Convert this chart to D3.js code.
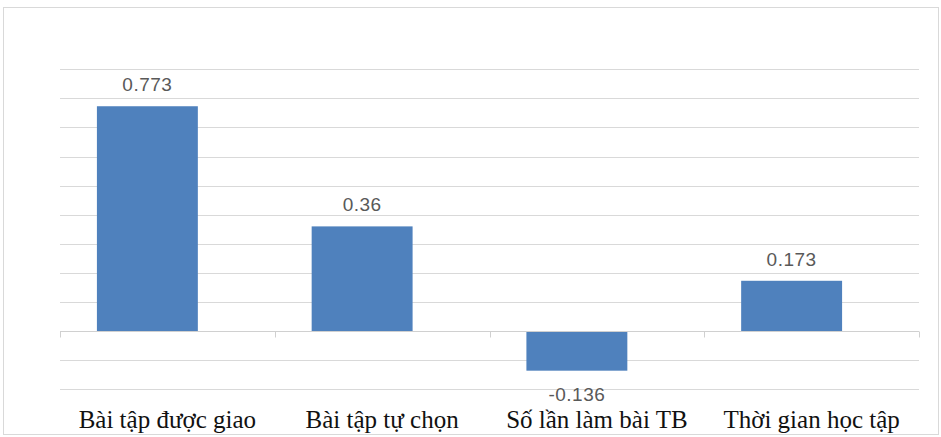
<!DOCTYPE html>
<html>
<head>
<meta charset="utf-8">
<script src="https://cdn.jsdelivr.net/npm/d3@7"></script>
<style>
  html, body { margin: 0; padding: 0; background: #fff; }
  svg { display: block; }
</style>
</head>
<body>
<svg id="chart" width="941" height="437"></svg>
<script>
// Hệ số tương quan của từng yếu tố
const categories = ["Bài tập được giao", "Bài tập tự chọn", "Số lần làm bài TB", "Thời gian học tập"];
const values = [0.773, 0.36, -0.136, 0.173];
const valueLabels = ["0.773", "0.36", "-0.136", "0.173"];
const gridTicks = [-0.2, -0.1, 0, 0.1, 0.2, 0.3, 0.4, 0.5, 0.6, 0.7, 0.8, 0.9];

const svg = d3.select("#chart");
const W = 941, H = 437;
const plot = { left: 60, right: 919, top: 69.3, bottom: 389.3 };
const barShift = -20; // bars sit left of the category centre

// chart frame
svg.append("rect")
  .attr("x", 3.5).attr("y", 7.5)
  .attr("width", W - 6).attr("height", H - 10)
  .attr("fill", "#fff").attr("stroke", "#d9d9d9").attr("stroke-width", 1);

const x = d3.scaleBand()
  .domain(categories)
  .range([plot.left, plot.right])
  .paddingInner(0.53)
  .paddingOuter(0.265);

const y = d3.scaleLinear()
  .domain([-0.2, 0.9])
  .range([plot.bottom, plot.top]);

// horizontal gridlines
svg.append("g")
  .selectAll("line")
  .data(gridTicks.filter(t => t !== 0))
  .join("line")
  .attr("x1", plot.left).attr("x2", plot.right)
  .attr("y1", d => Math.round(y(d)) + 0.5)
  .attr("y2", d => Math.round(y(d)) + 0.5)
  .attr("stroke", "#d9d9d9").attr("stroke-width", 1);

// bars
svg.append("g")
  .selectAll("rect")
  .data(values)
  .join("rect")
  .attr("x", (d, i) => x(categories[i]) + barShift)
  .attr("width", x.bandwidth())
  .attr("y", d => y(Math.max(0, d)))
  .attr("height", d => Math.abs(y(d) - y(0)))
  .attr("fill", "#4f81bd");

// category axis along zero with boundary ticks
const step = x.step();
const boundaries = d3.range(categories.length + 1).map(i => plot.left + i * step);
const axisY = Math.round(y(0)) + 0.5;
const axisG = svg.append("g");
axisG.append("line")
  .attr("x1", plot.left).attr("x2", plot.right)
  .attr("y1", axisY).attr("y2", axisY)
  .attr("stroke", "#d0d0d0").attr("stroke-width", 1);
axisG.selectAll("line.tick")
  .data(boundaries)
  .join("line")
  .attr("class", "tick")
  .attr("x1", d => Math.round(d) + 0.5).attr("x2", d => Math.round(d) + 0.5)
  .attr("y1", axisY).attr("y2", axisY + 6)
  .attr("stroke", "#d0d0d0").attr("stroke-width", 1);

// value labels
svg.append("g")
  .selectAll("text")
  .data(values)
  .join("text")
  .attr("x", (d, i) => x(categories[i]) + x.bandwidth() / 2 + barShift)
  .attr("y", d => d >= 0 ? y(d) - 15 : y(d) + 30)
  .attr("text-anchor", "middle")
  .attr("font-family", "'Liberation Sans', Arial, sans-serif")
  .attr("font-size", 19)
  .attr("letter-spacing", 0.5)
  .attr("fill", "#595959")
  .text((d, i) => valueLabels[i]);

// category labels
svg.append("g")
  .selectAll("text")
  .data(categories)
  .join("text")
  .attr("x", d => x(d) + x.bandwidth() / 2)
  .attr("y", 428)
  .attr("text-anchor", "middle")
  .attr("font-family", "'Liberation Serif', 'Times New Roman', serif")
  .attr("font-size", 25)
  .attr("fill", "#111")
  .text(d => d);
</script>
</body>
</html>
